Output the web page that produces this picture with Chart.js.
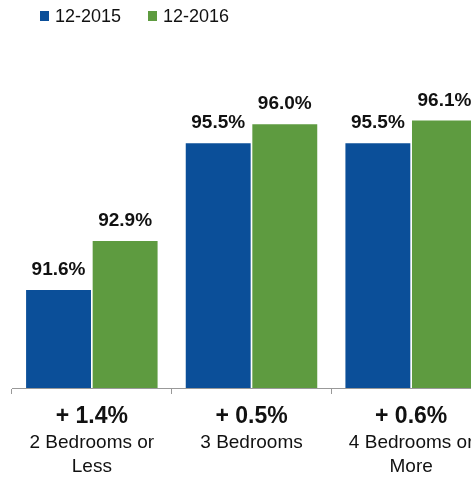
<!DOCTYPE html>
<html>
<head>
<meta charset="utf-8">
<script src="https://cdn.jsdelivr.net/npm/chart.js@4.4.1/dist/chart.umd.min.js"></script>
<style>
  html, body { margin: 0; padding: 0; overflow: hidden; background: #fff; }
  body { width: 471px; height: 477px; position: relative; font-family: "Liberation Sans", Arial, sans-serif; }
  .chart_div { position: absolute; left: 0; top: 0; width: 500px; height: 477px; }
  .legend { position: absolute; left: 40px; top: 7px; display: flex; align-items: center; font-size: 18px; line-height: 18px; color: #111; z-index: 2; }
  .legend .item { display: flex; align-items: center; }
  .legend .box { width: 9px; height: 10px; margin-right: 6px; }
</style>
</head>
<body>
<div class="legend">
  <div class="item" style="margin-right:27px"><span class="box" style="background:#0B4F99"></span>12-2015</div>
  <div class="item"><span class="box" style="background:#5E9B40"></span>12-2016</div>
</div>
<div class="chart_div"><canvas id="myChart"></canvas></div>
<script>
// data
const categories = [["2 Bedrooms or", "Less"], ["3 Bedrooms"], ["4 Bedrooms or", "More"]];
const values2015 = [91.6, 95.5, 95.5];
const values2016 = [92.9, 96.0, 96.1];
const changeLabels = ["+ 1.4%", "+ 0.5%", "+ 0.6%"];
const seriesNames = ["12-2015", "12-2016"];

const fontFamily = '"Liberation Sans", Arial, sans-serif';

// value labels above bars + the change / category text under the axis
const labelsPlugin = {
    id: 'labelsPlugin',
    afterDatasetsDraw(chart) {
        const ctx = chart.ctx;
        ctx.save();
        ctx.fillStyle = '#111';
        ctx.textAlign = 'center';
        ctx.textBaseline = 'alphabetic';
        ctx.font = 'bold 19px ' + fontFamily;
        chart.data.datasets.forEach((ds, i) => {
            const meta = chart.getDatasetMeta(i);
            meta.data.forEach((bar, j) => {
                ctx.fillText(ds.data[j].toFixed(1) + '%', bar.x, bar.y - 15);
            });
        });

        const xScale = chart.scales.x;
        const bottom = chart.chartArea.bottom;
        categories.forEach((cat, i) => {
            const x = xScale.getPixelForValue(i);
            ctx.font = 'bold 23px ' + fontFamily;
            ctx.fillText(changeLabels[i], x, bottom + 35);
            ctx.font = '19px ' + fontFamily;
            cat.forEach((line, k) => {
                ctx.fillText(line, x, bottom + 60 + k * 24);
            });
        });
        ctx.restore();
    }
};

const ctx = document.getElementById('myChart');
var chart = new Chart(ctx, {
    type: 'bar',
    data: {
        labels: categories,
        datasets: [{
            label: seriesNames[0],
            data: values2015,
            backgroundColor: '#0B4F99',
            categoryPercentage: 0.834,
            barPercentage: 0.975
        }, {
            label: seriesNames[1],
            data: values2016,
            backgroundColor: '#5E9B40',
            categoryPercentage: 0.834,
            barPercentage: 0.975
        }]
    },
    options: {
        responsive: true,
        maintainAspectRatio: false,
        animation: false,
        layout: {
            padding: { left: 12, right: 9, top: 49, bottom: 83 }
        },
        plugins: {
            legend: { display: false },
            tooltip: { enabled: false }
        },
        scales: {
            x: {
                grid: {
                    offset: true,
                    drawOnChartArea: false,
                    drawTicks: true,
                    tickLength: 6,
                    color: '#999'
                },
                border: { display: true, color: '#999' },
                ticks: { display: false }
            },
            y: {
                display: false,
                min: 89,
                max: 98
            }
        }
    },
    plugins: [labelsPlugin]
});
</script>
</body>
</html>
